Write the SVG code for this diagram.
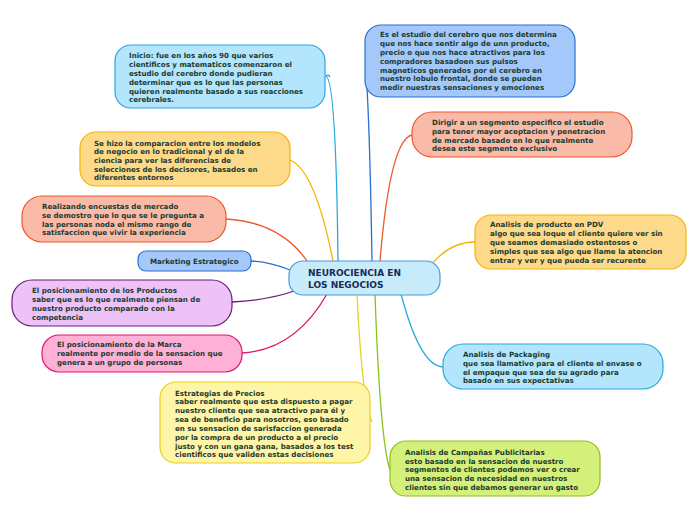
<svg xmlns="http://www.w3.org/2000/svg" width="696" height="520" viewBox="0 0 696 520">
<style>
.t{font-family:"DejaVu Sans",Verdana,sans-serif;font-weight:bold;font-size:7.1px;fill:#1b3a30}
.c{font-family:"DejaVu Sans",Verdana,sans-serif;font-weight:bold;font-size:9px;fill:#1a2a55}
.n{stroke-width:1.2}
.l{fill:none;stroke-width:1.3}
</style>
<rect width="696" height="520" fill="#ffffff"/>
<g id="connectors">
<path class="l" stroke="#29a8e0" d="M338 261 Q336 80 326 76 Q329 74 330 77"/>
<path class="l" stroke="#2a6fd0" d="M372 261 Q370 140 367 88"/>
<path class="l" stroke="#f5b400" d="M333 261 Q315 170 290 160"/>
<path class="l" stroke="#f0572a" d="M307 261 Q280 222 226 219"/>
<path class="l" stroke="#2a6fd0" d="M290 270 Q270 262 251 261"/>
<path class="l" stroke="#6a1a7a" d="M297 290 Q270 300 232 302"/>
<path class="l" stroke="#e0156c" d="M327 294 Q295 350 242 353"/>
<path class="l" stroke="#f0572a" d="M380 261 Q390 140 412 135"/>
<path class="l" stroke="#f5b400" d="M432 264 Q450 242 475 242"/>
<path class="l" stroke="#29a8e0" d="M401 294 Q420 366 443 367"/>
<path class="l" stroke="#e8d020" d="M357 294 Q362 400 372 422"/>
<path class="l" stroke="#8cc21a" d="M375 294 Q380 440 390 470"/>
</g>
<g id="center">
<rect class="n" x="289" y="261" width="151" height="34" rx="14" fill="#c8ebfb" stroke="#4a9ad8"/>
<text class="c" x="308" y="276">NEUROCIENCIA EN</text>
<text class="c" x="308" y="288">LOS NEGOCIOS</text>
</g>
<g id="inicio">
<rect class="n" x="115" y="45" width="210" height="63" rx="16" fill="#b3e5fc" stroke="#29a8e0"/>
<text class="t" x="129"><tspan x="129" y="58">Inicio: fue en los años 90 que varios</tspan><tspan x="129" y="67">cientificos y matematicos comenzaron el</tspan><tspan x="129" y="76">estudio del cerebro donde pudieran</tspan><tspan x="129" y="85">determinar que es lo que las personas</tspan><tspan x="129" y="94">quieren realmente basado a sus reacciones</tspan><tspan x="129" y="102">cerebrales.</tspan></text>
</g>
<g id="estudio">
<rect class="n" x="365" y="25" width="210" height="72" rx="16" fill="#a4c8fa" stroke="#2a6fd0"/>
<text class="t"><tspan x="380" y="37">Es el estudio del cerebro que nos determina</tspan><tspan x="380" y="46">que nos hace sentir algo de unn producto,</tspan><tspan x="380" y="55">precio o que nos hace atractivos para los</tspan><tspan x="380" y="64">compradores basadoen sus pulsos</tspan><tspan x="380" y="73">magneticos generados por el cerebro en</tspan><tspan x="380" y="81">nuestro lobulo frontal, donde se pueden</tspan><tspan x="380" y="90">medir nuestras sensaciones y emociones</tspan></text>
</g>
<g id="comparacion">
<rect class="n" x="80" y="132" width="210" height="54" rx="16" fill="#fdd98a" stroke="#f5b400"/>
<text class="t"><tspan x="94" y="146">Se hizo la comparacion entre los modelos</tspan><tspan x="94" y="154">de negocio en lo tradicional y el de la</tspan><tspan x="94" y="163">ciencia para ver las diferencias de</tspan><tspan x="94" y="172">selecciones de los decisores, basados en</tspan><tspan x="94" y="180">diferentes entornos</tspan></text>
</g>
<g id="encuestas">
<rect class="n" x="22" y="196" width="204" height="46" rx="20" fill="#f9bba8" stroke="#f0572a"/>
<text class="t"><tspan x="42" y="209">Realizando encuestas de mercado</tspan><tspan x="42" y="218">se demostro que lo que se le pregunta a</tspan><tspan x="42" y="227">las personas noda el mismo rango de</tspan><tspan x="42" y="235">satisfaccion que vivir la experiencia</tspan></text>
</g>
<g id="marketing">
<rect class="n" x="138" y="251" width="113" height="20" rx="8" fill="#a4c8fa" stroke="#2a6fd0"/>
<text class="t" x="150" y="264">Marketing Estrategico</text>
</g>
<g id="productos">
<rect class="n" x="12" y="280" width="220" height="46" rx="20" fill="#ecc2f7" stroke="#6a1a7a"/>
<text class="t"><tspan x="32" y="293">El posicionamiento de los Productos</tspan><tspan x="32" y="302">saber que es lo que realmente piensan de</tspan><tspan x="32" y="311">nuestro producto comparado con la</tspan><tspan x="32" y="320">competencia</tspan></text>
</g>
<g id="marca">
<rect class="n" x="42" y="335" width="200" height="37" rx="17" fill="#ffb0d6" stroke="#e0156c"/>
<text class="t"><tspan x="57" y="347">El posicionamiento de la Marca</tspan><tspan x="57" y="356">realmente por medio de la sensacion que</tspan><tspan x="57" y="365">genera a un grupo de personas</tspan></text>
</g>
<g id="dirigir">
<rect class="n" x="412" y="112" width="220" height="45" rx="20" fill="#f9bba8" stroke="#f0572a"/>
<text class="t"><tspan x="432" y="125">Dirigir a un segmento especifico el estudio</tspan><tspan x="432" y="134">para tener mayor aceptacion y penetracion</tspan><tspan x="432" y="143">de mercado basado en lo que realmente</tspan><tspan x="432" y="151">desea este segmento exclusivo</tspan></text>
</g>
<g id="pdv">
<rect class="n" x="475" y="215" width="211" height="54" rx="16" fill="#fdd98a" stroke="#f5b400"/>
<text class="t"><tspan x="490" y="227">Analisis de producto en PDV</tspan><tspan x="490" y="236">algo que sea loque el cliente quiere ver sin</tspan><tspan x="490" y="245">que seamos demasiado ostentosos o</tspan><tspan x="490" y="254">simples que sea algo que llame la atencion</tspan><tspan x="490" y="263">entrar y ver y que pueda ser recurente</tspan></text>
</g>
<g id="packaging">
<rect class="n" x="443" y="344" width="220" height="45" rx="20" fill="#b3e5fc" stroke="#29a8e0"/>
<text class="t"><tspan x="463" y="357">Analisis de Packaging</tspan><tspan x="463" y="366">que sea llamativo para el cliente el envase o</tspan><tspan x="463" y="375">el empaque que sea de su agrado para</tspan><tspan x="463" y="383">basado en sus expectativas</tspan></text>
</g>
<g id="precios">
<rect class="n" x="160" y="382" width="210" height="81" rx="16" fill="#fff5a8" stroke="#e8d020"/>
<text class="t"><tspan x="175" y="396">Estrategias de Precios</tspan><tspan x="175" y="404">saber realmente que esta dispuesto a pagar</tspan><tspan x="175" y="413">nuestro cliente que sea atractivo para él y</tspan><tspan x="175" y="422">sea de beneficio para nosotros, eso basado</tspan><tspan x="175" y="431">en su sensacion de sarisfaccion generada</tspan><tspan x="175" y="440">por la compra de un producto a el precio</tspan><tspan x="175" y="449">justo y con un gana gana, basados a los test</tspan><tspan x="175" y="457">cientificos que validen estas decisiones</tspan></text>
</g>
<g id="campanas">
<rect class="n" x="390" y="441" width="210" height="55" rx="16" fill="#d4f07a" stroke="#8cc21a"/>
<text class="t"><tspan x="405" y="455">Analisis de Campañas Publicitarias</tspan><tspan x="405" y="464">esto basado en la sensacion de nuestro</tspan><tspan x="405" y="472">segmentos de clientes podemos ver o crear</tspan><tspan x="405" y="481">una sensacion de necesidad en nuestros</tspan><tspan x="405" y="490">clientes sin que debamos generar un gasto</tspan></text>
</g>
</svg>
